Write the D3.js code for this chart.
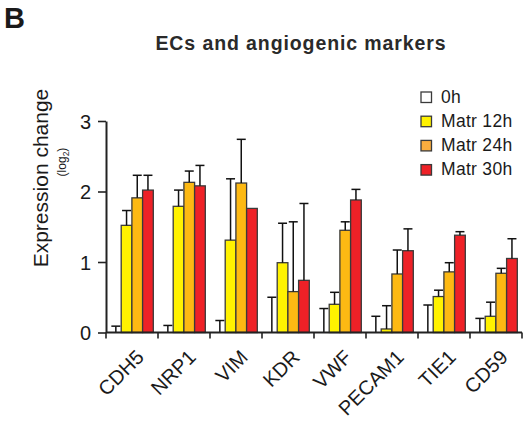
<!DOCTYPE html>
<html>
<head>
<meta charset="utf-8">
<script src="https://cdn.jsdelivr.net/npm/d3@7"></script>
<style>
  body { margin: 0; background: #fff; }
  text { font-family: "Liberation Sans", Arial, sans-serif; fill: #1a1a1a; }
</style>
</head>
<body>
<div id="chart"></div>
<script>
// values (log2 expression change)
const genes = ['CDH5', 'NRP1', 'VIM', 'KDR', 'VWF', 'PECAM1', 'TIE1', 'CD59'];
const series = ['0h', 'Matr 12h', 'Matr 24h', 'Matr 30h'];
const mean0h  = [0, 0, 0, 0, 0, 0, 0, 0];
const mean12h = [1.52, 1.79, 1.31, 0.99, 0.40, 0.05, 0.51, 0.23];
const mean24h = [1.91, 2.13, 2.12, 0.58, 1.45, 0.83, 0.86, 0.84];
const mean30h = [2.02, 2.08, 1.76, 0.74, 1.88, 1.16, 1.38, 1.05];
const top0h   = [0.09, 0.10, 0.17, 0.50, 0.34, 0.23, 0.39, 0.20];
const top12h  = [1.73, 2.02, 2.18, 1.55, 0.57, 0.38, 0.60, 0.43];
const top24h  = [2.23, 2.29, 2.74, 1.57, 1.57, 1.17, 0.99, 0.91];
const top30h  = [2.23, 2.37, 1.76, 1.83, 2.03, 1.47, 1.43, 1.33];
const yTicks = [0, 1, 2, 3];

const barColors = ['#ffffff', '#fff200', '#fdb913', '#ee2127'];
const legendColors = ['#ffffff', '#fff200', '#fbad3f', '#ee2127'];

const means = [mean0h, mean12h, mean24h, mean30h];
const tops = [top0h, top12h, top24h, top30h];

const W = 527, H = 421;
const svg = d3.select('#chart').append('svg')
  .attr('width', W).attr('height', H);

const x = d3.scaleBand().domain(genes).range([106, 522]);
const xs = d3.scaleBand().domain(series).range([4.5, 47.3]);
const y = d3.scaleLinear().domain([0, 3]).range([332.5, 121]);

// panel letter and title
svg.append('text').attr('x', 4).attr('y', 28)
  .style('font-size', '29px').style('font-weight', 'bold').text('B');
svg.append('text').attr('x', 301).attr('y', 50)
  .attr('text-anchor', 'middle')
  .style('font-size', '19.5px').style('font-weight', 'bold')
  .style('letter-spacing', '0.9px').style('fill', '#2a2a2a')
  .text('ECs and angiogenic markers');

// rows of data
const rows = [];
series.forEach((s, si) => {
  genes.forEach((g, gi) => {
    rows.push({gene: g, s: s, si: si, v: means[si][gi], top: tops[si][gi]});
  });
});

const bars = svg.append('g');
bars.selectAll('rect')
  .data(rows.filter(d => d.v > 0))
  .join('rect')
  .attr('x', d => x(d.gene) + xs(d.s))
  .attr('width', xs.bandwidth())
  .attr('y', d => y(d.v))
  .attr('height', d => y(0) - y(d.v))
  .attr('fill', d => barColors[d.si])
  .attr('stroke', '#3a3a3a')
  .attr('stroke-width', 1.3);

// error bars (upper only)
const err = svg.append('g').attr('stroke', '#111').attr('stroke-width', 1.5);
const errRows = rows.filter(d => d.top > d.v);
err.selectAll('line.v')
  .data(errRows)
  .join('line')
  .attr('class', 'v')
  .attr('x1', d => x(d.gene) + xs(d.s) + xs.bandwidth() / 2)
  .attr('x2', d => x(d.gene) + xs(d.s) + xs.bandwidth() / 2)
  .attr('y1', d => y(d.v))
  .attr('y2', d => y(d.top));
err.selectAll('line.c')
  .data(errRows)
  .join('line')
  .attr('class', 'c')
  .attr('x1', d => x(d.gene) + xs(d.s) + xs.bandwidth() / 2 - 4.5)
  .attr('x2', d => x(d.gene) + xs(d.s) + xs.bandwidth() / 2 + 4.5)
  .attr('y1', d => y(d.top))
  .attr('y2', d => y(d.top));

// y axis
const yAxis = svg.append('g').attr('transform', 'translate(106,0)')
  .call(d3.axisLeft(y).tickValues(yTicks).tickFormat(d3.format('d'))
    .tickSize(8).tickPadding(7).tickSizeOuter(0));
yAxis.select('.domain').attr('stroke', '#222').attr('stroke-width', 2);
yAxis.selectAll('.tick line').attr('stroke', '#222').attr('stroke-width', 1.6);
yAxis.selectAll('.tick text')
  .style('font-size', '20px').style('font-family', '"Liberation Sans", Arial, sans-serif')
  .attr('fill', '#1a1a1a').attr('dy', '0.36em');

// x axis: ticks at category boundaries
const xAxis = svg.append('g').attr('transform', `translate(0,${y(0)})`);
xAxis.append('line')
  .attr('x1', x.range()[0]).attr('x2', x.range()[1])
  .attr('stroke', '#222').attr('stroke-width', 2);
const bounds = genes.map(g => x(g)).concat([x.range()[1]]);
xAxis.selectAll('line.t')
  .data(bounds)
  .join('line')
  .attr('class', 't')
  .attr('x1', d => d).attr('x2', d => d)
  .attr('y1', 0).attr('y2', 6)
  .attr('stroke', '#222').attr('stroke-width', 1.6);
xAxis.selectAll('text')
  .data(genes)
  .join('text')
  .attr('text-anchor', 'end')
  .attr('transform', d => `translate(${x(d) + x.bandwidth() / 2 + 13},${26}) rotate(-45)`)
  .style('font-size', '20px')
  .text(d => d);

// y axis title
svg.append('text')
  .attr('transform', 'translate(47.5,178) rotate(-90)')
  .attr('text-anchor', 'middle')
  .style('font-size', '21px')
  .text('Expression change');
const sub = svg.append('text')
  .attr('transform', 'translate(66,162) rotate(-90)')
  .attr('text-anchor', 'middle')
  .style('font-size', '12px');
sub.append('tspan').text('(log');
sub.append('tspan').attr('dy', 3).style('font-size', '8.5px').text('2');
sub.append('tspan').attr('dy', -3).text(')');

// legend
const leg = svg.append('g').attr('transform', 'translate(421,92)');
const li = leg.selectAll('g')
  .data(series)
  .join('g')
  .attr('transform', (d, i) => `translate(0,${i * 24.2})`);
li.append('rect')
  .attr('width', 10.5).attr('height', 10.5)
  .attr('fill', (d, i) => legendColors[i])
  .attr('stroke', '#3a3a3a').attr('stroke-width', 1.3);
li.append('text')
  .attr('x', 20).attr('y', 10.5)
  .style('font-size', '17.5px')
  .style('letter-spacing', '0.3px')
  .text(d => d);
</script>
</body>
</html>
